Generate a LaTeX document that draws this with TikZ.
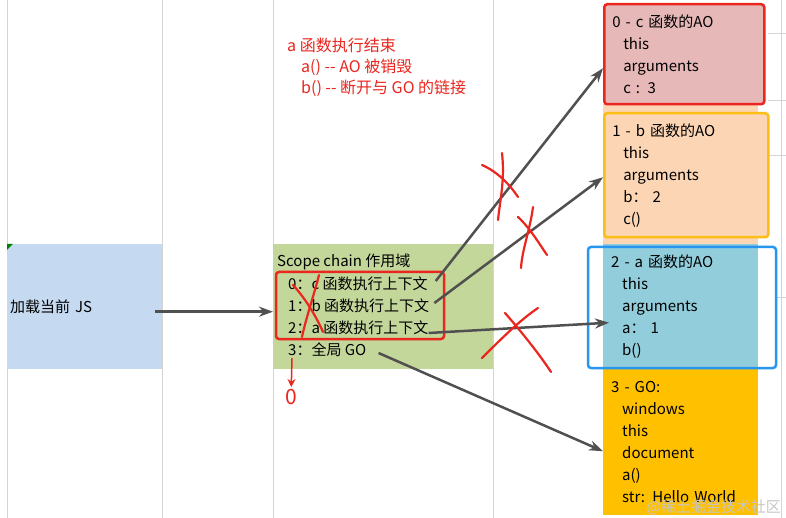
\documentclass[tikz,border=0pt]{standalone}
\usepackage{fontspec}
\setmainfont{Noto Sans CJK SC}
\usetikzlibrary{arrows.meta}
\definecolor{loadblue}{RGB}{197,217,241}
\definecolor{scopegreen}{RGB}{196,215,155}
\definecolor{aopink}{RGB}{230,184,183}
\definecolor{aopeach}{RGB}{252,213,180}
\definecolor{aoblue}{RGB}{146,205,220}
\definecolor{gogold}{RGB}{255,192,0}
\definecolor{markred}{RGB}{234,38,30}
\definecolor{frameyellow}{RGB}{250,190,20}
\definecolor{frameblue}{RGB}{38,150,240}
\definecolor{arrowgray}{RGB}{80,80,80}
\definecolor{gridgray}{RGB}{212,212,212}
\definecolor{tickgreen}{RGB}{0,128,0}
\newcommand{\aoind}{\hspace*{11pt}}
\begin{document}
\begin{tikzpicture}[x=1pt, y=-1pt, >={Stealth[length=14pt,width=10pt]},
  every node/.style={font=\fontsize{15pt}{22pt}\selectfont, inner sep=0pt},
  cell/.style={anchor=north west, align=left, inner xsep=8pt},
  frame/.style={draw=#1, line width=2.5pt, rounded corners=3pt},
  link/.style={->, draw=arrowgray, line width=2.5pt},
  cross/.style={draw=markred, line width=2.2pt, line cap=round},
  gridline/.style={draw=gridgray, line width=0.8pt}]
\useasboundingbox (0,0) rectangle (786,518);
\fill[white] (0,0) rectangle (786,518);
\foreach \gx in {7,162,273,493,781}
  \draw[gridline] (\gx,0) -- (\gx,518);
\foreach \gy in {33,100,155}
  \draw[gridline] (768,\gy) -- (786,\gy);
\draw[gridline] (777,297) -- (786,297);

\node[cell, inner xsep=3pt, fill=loadblue, text width=149pt, minimum height=125pt] (load) at (7,244) {加载当前 JS};
\fill[tickgreen] (7,244) -- (13,244) -- (7,250) -- cycle;
\node[cell, fill=scopegreen, text width=204pt, minimum height=125pt] (scope) at (273,244) {};

\node[cell, inner xsep=0pt, text=markred, font=\fontsize{16pt}{21pt}\selectfont] (endnote) at (287,38)
  {a 函数执行结束\\\hspace*{14pt}a() -{}- AO 被销毁\\\hspace*{14pt}b() -{}- 断开与 GO 的链接};

\node[anchor=west] (sc) at (277,262) {Scope chain 作用域};
\node[anchor=west] (s0) at (288,284) {0：c 函数执行上下文};
\node[anchor=west] (s1) at (288,306) {1：b 函数执行上下文};
\node[anchor=west] (s2) at (288,328) {2：a 函数执行上下文};
\node[anchor=west] (s3) at (288,350) {3：全局 GO};
\node[frame=markred, minimum width=168pt, minimum height=67pt] (ctxframe) at (360,305.5) {};
\node[text=markred, font=\fontsize{21pt}{21pt}\selectfont, inner sep=2pt] (zero) at (291,397) {0};

\fill[aopeach] (603,104) rectangle (758,244);
\node[cell, fill=aopink, frame=markred, text width=144pt, minimum height=100pt] (ao0) at (603,3)
  {0 - c 函数的AO\\\aoind this\\\aoind arguments\\\aoind c : 3};
\node[cell, fill=aopeach, frame=frameyellow, text width=148pt, minimum height=124pt] (ao1) at (603,112)
  {1 - b 函数的AO\\\aoind this\\\aoind arguments\\\aoind b： 2\\\aoind c()};
\node[cell, fill=aoblue, text width=139pt, minimum height=125pt] (ao2) at (603,244)
  {2 - a 函数的AO\\\aoind this\\\aoind arguments\\\aoind a： 1\\\aoind b()};
\node[cell, fill=gogold, text width=139pt, minimum height=146pt] (go) at (603,369)
  {3 - GO:\\\aoind windows\\\aoind this\\\aoind document\\\aoind a()\\\aoind str: Hello World};
\node[frame=frameblue, minimum width=188pt, minimum height=121pt] (ao2frame) at (682,307.5) {};
\node[anchor=east, text=gray!45] (wm) at (781,507) {@稀土掘金技术社区};

\draw[link] ([xshift=-7pt,yshift=-5pt]load.east) -- ([yshift=-5pt]scope.west);
\draw[link] ([xshift=8pt,yshift=3pt]s0.east) -- ([yshift=-14pt]ao0.west);
\draw[link] ([xshift=5pt,yshift=3pt]s1.east) -- ([yshift=-2pt]ao1.west);
\draw[link] ([yshift=-5pt]s2.east) -- ([xshift=6pt,yshift=-16pt]ao2.west);
\draw[link] ([xshift=12pt,yshift=-3pt]s3.east) -- ([yshift=-9pt]go.west);
\draw[->, draw=markred, line width=1.5pt, >={Stealth[length=8pt,width=8pt]}] ([xshift=4pt,yshift=-1pt]s3.south west) -- (zero);

\draw[cross] (293,285) .. controls (305,298) and (316,316) .. (323,332);
\draw[cross] (319,275) .. controls (314,295) and (306,318) .. (302,337);
\draw[cross] (482,165) .. controls (498,172) and (510,185) .. (518,197);
\draw[cross] (502,153) .. controls (505,180) and (500,200) .. (498,220);
\draw[cross] (518,217) .. controls (530,228) and (540,245) .. (547,255);
\draw[cross] (533,207) .. controls (530,230) and (522,250) .. (521,268);
\draw[cross] (482,358) .. controls (500,340) and (520,320) .. (538,308);
\draw[cross] (505,313) .. controls (520,330) and (540,355) .. (551,372);
\end{tikzpicture}
\end{document}
